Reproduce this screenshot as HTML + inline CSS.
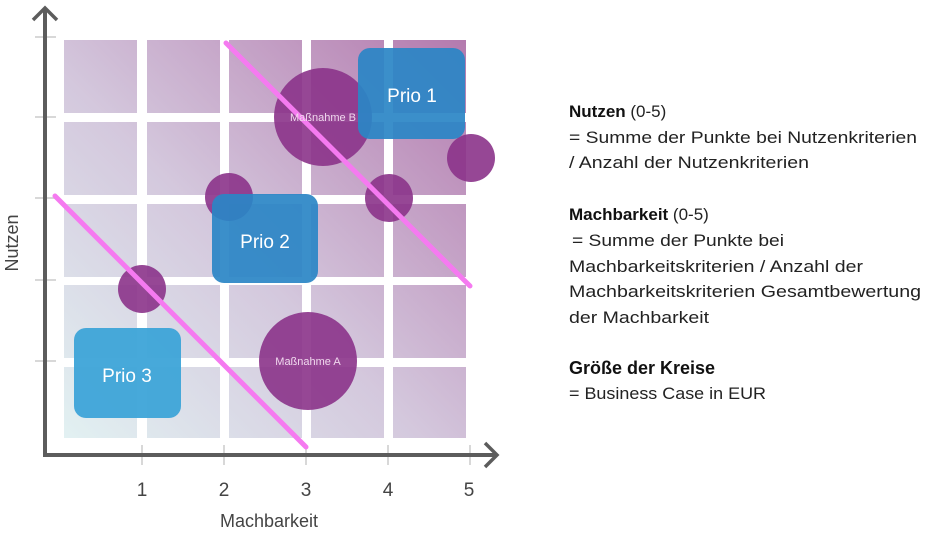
<!DOCTYPE html>
<html><head><meta charset="utf-8"><style>
html,body{margin:0;padding:0;background:#fff;}
svg{display:block;}
text{font-family:"Liberation Sans",sans-serif;}
</style></head><body>
<svg width="948" height="536" viewBox="0 0 948 536" xmlns="http://www.w3.org/2000/svg">
<defs>
<linearGradient id="g" gradientUnits="userSpaceOnUse" x1="64" y1="438" x2="466" y2="40">
<stop offset="0" stop-color="#e2f1f2"/>
<stop offset="0.45" stop-color="#d4c8dd"/>
<stop offset="1" stop-color="#b47aae"/>
</linearGradient>
</defs>
<rect x="64" y="40" width="402" height="398" fill="url(#g)"/>
<g fill="#fff">
<rect x="137" y="30" width="10" height="420"/>
<rect x="220" y="30" width="9" height="420"/>
<rect x="302" y="30" width="9" height="420"/>
<rect x="384" y="30" width="9" height="420"/>
<rect x="55" y="113" width="420" height="9"/>
<rect x="55" y="195" width="420" height="9"/>
<rect x="55" y="277" width="420" height="8"/>
<rect x="55" y="358" width="420" height="9"/>
</g>
<g stroke="#d8d8d8" stroke-width="2">
<line x1="35" y1="37" x2="56" y2="37"/><line x1="35" y1="117" x2="56" y2="117"/><line x1="35" y1="198" x2="56" y2="198"/><line x1="35" y1="280" x2="56" y2="280"/><line x1="35" y1="361" x2="56" y2="361"/>
<line x1="142" y1="445" x2="142" y2="465"/><line x1="224" y1="445" x2="224" y2="465"/><line x1="306" y1="445" x2="306" y2="465"/><line x1="388" y1="445" x2="388" y2="465"/><line x1="470" y1="445" x2="470" y2="465"/>
</g>
<g stroke="#5c5c5c" stroke-width="4" fill="none">
<line x1="45" y1="8" x2="45" y2="456"/>
<line x1="43" y1="455" x2="497" y2="455"/>
<polyline points="33,20 45,8 57,20" stroke-width="3.5"/>
<polyline points="485,443 497,455 485,467" stroke-width="3.5"/>
</g>
<g fill="#8b3389" fill-opacity="0.9">
<circle cx="323" cy="117" r="49"/>
<circle cx="471" cy="158" r="24"/>
<circle cx="229" cy="197" r="24"/>
<circle cx="389" cy="198" r="24"/>
<circle cx="142" cy="289" r="24"/>
<circle cx="308" cy="361" r="49"/>
</g>
<g fill="#2a85c6" fill-opacity="0.92">
<rect x="358" y="48" width="107" height="91" rx="12"/>
<rect x="212" y="194" width="106" height="89" rx="12"/>
</g>
<rect x="74" y="328" width="107" height="90" rx="12" fill="#3da4d8" fill-opacity="0.95"/>
<g stroke="#f57af0" stroke-width="5" stroke-linecap="round">
<line x1="226" y1="43" x2="470" y2="286"/>
<line x1="55" y1="196" x2="306" y2="447"/>
</g>
<g fill="#fff" font-size="19" text-anchor="middle">
<text x="412" y="102">Prio 1</text>
<text x="265" y="248">Prio 2</text>
<text x="127" y="382">Prio 3</text>
</g>
<g fill="#f0d8ee" font-size="11" text-anchor="middle">
<text x="323" y="121">Maßnahme B</text>
<text x="308" y="365">Maßnahme A</text>
</g>
<g fill="#444" font-size="19" text-anchor="middle">
<text x="142" y="496">1</text><text x="224" y="496">2</text><text x="306" y="496">3</text><text x="388" y="496">4</text><text x="469" y="496">5</text>
<text x="269" y="527" font-size="18">Machbarkeit</text>
<text transform="translate(18,243) rotate(-90)" font-size="18">Nutzen</text>
</g>
<g fill="#222" font-size="17">
<text x="569" y="117"><tspan font-weight="bold" fill="#111">Nutzen</tspan> (0-5)</text>
<text x="569" y="143" textLength="348" lengthAdjust="spacingAndGlyphs">= Summe der Punkte bei Nutzenkriterien</text>
<text x="569" y="168" textLength="240" lengthAdjust="spacingAndGlyphs">/ Anzahl der Nutzenkriterien</text>
<text x="569" y="220"><tspan font-weight="bold" fill="#111">Machbarkeit</tspan> (0-5)</text>
<text x="572" y="246" textLength="212" lengthAdjust="spacingAndGlyphs">= Summe der Punkte bei</text>
<text x="569" y="272" textLength="294" lengthAdjust="spacingAndGlyphs">Machbarkeitskriterien / Anzahl der</text>
<text x="569" y="297" textLength="352" lengthAdjust="spacingAndGlyphs">Machbarkeitskriterien Gesamtbewertung</text>
<text x="569" y="323" textLength="140" lengthAdjust="spacingAndGlyphs">der Machbarkeit</text>
<text x="569" y="374" font-weight="bold" fill="#111" font-size="18">Größe der Kreise</text>
<text x="569" y="399" textLength="197" lengthAdjust="spacingAndGlyphs">= Business Case in EUR</text>
</g>
</svg>
</body></html>
